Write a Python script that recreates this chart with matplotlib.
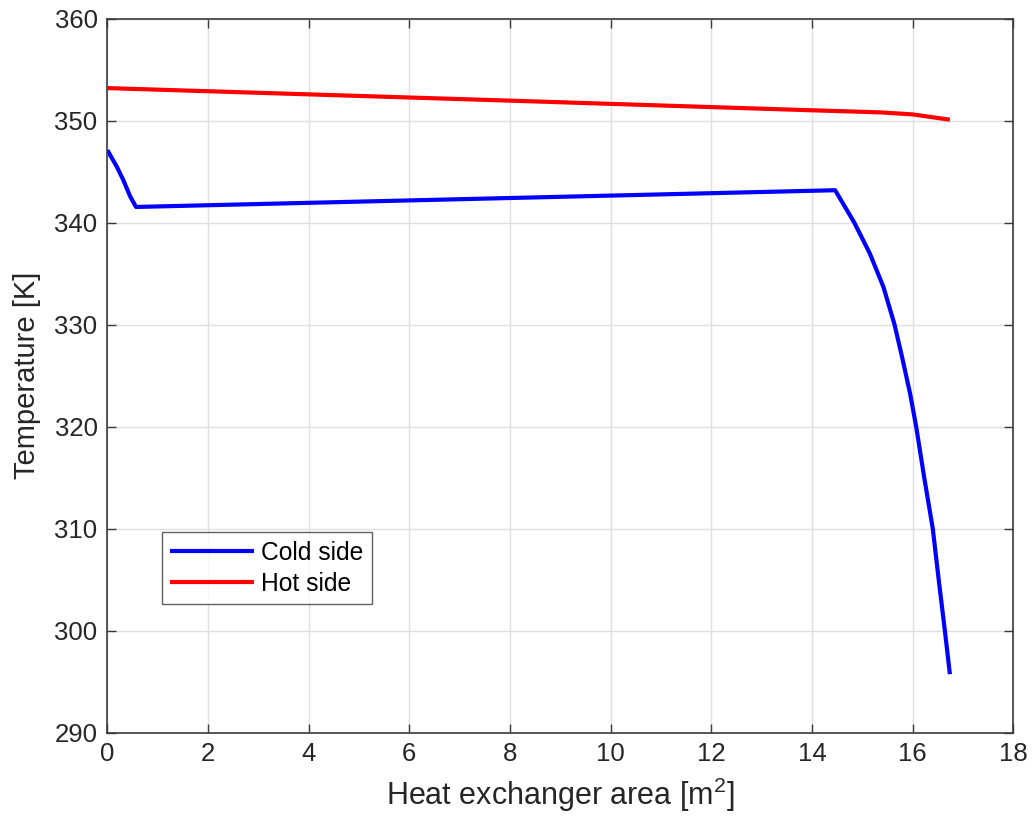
import matplotlib
matplotlib.use("Agg")
import matplotlib.pyplot as plt

plt.rcParams['font.family'] = ['Liberation Sans', 'DejaVu Sans']

# Cold side temperature profile along the heat exchanger area
cold_area = [0.0, 0.19, 0.32, 0.45, 0.57, 14.46, 14.84, 15.15, 15.42, 15.64,
             15.79, 15.95, 16.07, 16.23, 16.40, 16.52, 16.64, 16.74]
cold_temp = [347.1, 345.46, 344.14, 342.6, 341.53, 343.17, 340.0, 336.96,
             333.68, 330.0, 326.81, 323.22, 320.0, 315.0, 310.0, 304.9,
             300.0, 295.74]

# Hot side temperature profile
hot_area = [0.0, 8.0, 14.02, 15.36, 16.0, 16.74]
hot_temp = [353.18, 351.95, 351.0, 350.8, 350.6, 350.08]

x_ticks = [0, 2, 4, 6, 8, 10, 12, 14, 16, 18]
y_ticks = [290, 300, 310, 320, 330, 340, 350, 360]

fig = plt.figure(figsize=(10.32, 8.30), dpi=100)
ax = fig.add_axes([0.1040, 0.1172, 0.8779, 0.8605])

ax.plot(cold_area, cold_temp, color='#0000ff', lw=3.0, label='Cold side',
        solid_joinstyle='round', solid_capstyle='butt')
ax.plot(hot_area, hot_temp, color='#ff0000', lw=3.0, label='Hot side',
        solid_joinstyle='round', solid_capstyle='butt')

ax.set_xlim(0, 18)
ax.set_ylim(290, 360)
ax.set_xticks(x_ticks)
ax.set_yticks(y_ticks)
ax.grid(True, color='#e0e0e0', lw=1.0)
ax.set_axisbelow(True)

for s in ax.spines.values():
    s.set_color('#3a3a3a')
    s.set_linewidth(1.2)
ax.tick_params(direction='in', top=True, right=True, length=6.5, width=1.0,
               color='#3a3a3a', labelsize=18.5, labelcolor='#262626', pad=7)

ax.set_xlabel('Heat exchanger area [m$^{\\mathregular{2}}$]', fontsize=22,
              color='#262626', labelpad=7)
ax.set_ylabel('Temperature [K]', fontsize=21, color='#262626', labelpad=10)

leg = ax.legend(loc='lower left', bbox_to_anchor=(0.0607, 0.1802), fontsize=17.7,
                frameon=True, fancybox=False, handlelength=3.4, borderpad=0.33,
                labelspacing=0.3, handletextpad=0.3, borderaxespad=0)
leg.get_frame().set_edgecolor('#3a3a3a')
leg.get_frame().set_linewidth(1.0)

fig.savefig('out.png', dpi=100, facecolor='white')
